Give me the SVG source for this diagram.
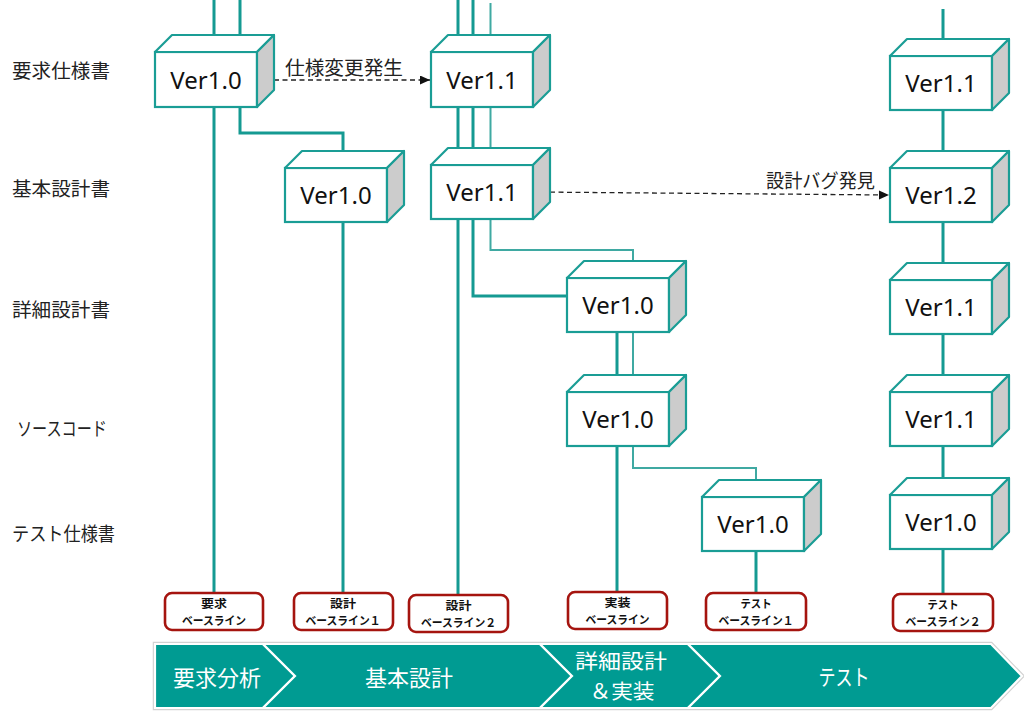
<svg xmlns="http://www.w3.org/2000/svg" width="1024" height="717" viewBox="0 0 1024 717">
<style>
.bg{fill:#ffffff}
.ln{fill:none;stroke:#159a92;stroke-width:3}
.lt{fill:none;stroke:#3fa9a2;stroke-width:2}
.fr{fill:#ffffff;stroke:#1a9d95;stroke-width:2.2}
.tp{fill:#ffffff;stroke:#1a9d95;stroke-width:2.2;stroke-linejoin:round}
.sd{fill:#cccccc;stroke:#1a9d95;stroke-width:2.2;stroke-linejoin:round}
.vt{font-family:"Noto Sans","DejaVu Sans",sans-serif;font-size:24px;fill:#111111;text-anchor:middle}
.lab{font-family:"Noto Sans CJK JP","Noto Sans",sans-serif;font-size:19px;fill:#222222}
.dash{fill:none;stroke:#222222;stroke-width:1.3;stroke-dasharray:5 3.5}
.bl{fill:#ffffff;stroke:#a5140f;stroke-width:2.6}
.blt{font-family:"Noto Sans CJK JP","Noto Sans",sans-serif;font-size:11.5px;font-weight:bold;fill:#111111;text-anchor:middle}
.ph{fill:#009b92;stroke:#ffffff;stroke-width:2.2;stroke-linejoin:miter}
.pht{font-family:"Noto Sans CJK JP","Noto Sans",sans-serif;font-size:22px;fill:#ffffff;text-anchor:middle}
.pht2{font-family:"Noto Sans CJK JP","Noto Sans",sans-serif;font-size:20.5px;fill:#ffffff;text-anchor:middle}
</style>
<defs>
<marker id="arr" markerUnits="userSpaceOnUse" markerWidth="11" markerHeight="10" refX="10" refY="4.5" orient="auto">
<path d="M0,0 L10,4.5 L0,9 z" fill="#111111"/>
</marker>
</defs>
<rect class="bg" x="0" y="0" width="1024" height="717"/>

<g id="row-labels">
<text class="lab" x="12" y="78" textLength="98" lengthAdjust="spacingAndGlyphs">要求仕様書</text>
<text class="lab" x="12" y="196" textLength="98" lengthAdjust="spacingAndGlyphs">基本設計書</text>
<text class="lab" x="12" y="317" textLength="98" lengthAdjust="spacingAndGlyphs">詳細設計書</text>
<text class="lab" x="17" y="436" textLength="90" lengthAdjust="spacingAndGlyphs">ソースコード</text>
<text class="lab" x="12" y="541" textLength="103" lengthAdjust="spacingAndGlyphs">テスト仕様書</text>
</g>

<g id="connectors">
<path class="ln" d="M214,0 V593"/>
<path class="ln" d="M240,0 V133 H343 V593"/>
<path class="ln" d="M458,0 V595"/>
<path class="ln" d="M473,0 V296 H567"/>
<path class="lt" d="M490.5,3 V250 H633 V300"/>
<path class="ln" d="M617,300 V592"/>
<path class="lt" d="M633,300 V468 H756 V520"/>
<path class="ln" d="M756,520 V593"/>
<path class="ln" d="M943,9 V594"/>
<path class="dash" d="M257,80 H430" marker-end="url(#arr)"/>
<path class="dash" d="M533,192 L889,195" marker-end="url(#arr)"/>
<text class="lab" x="285" y="74.5" textLength="118" lengthAdjust="spacingAndGlyphs">仕様変更発生</text>
<text class="lab" x="766" y="188" textLength="109" lengthAdjust="spacingAndGlyphs">設計バグ発見</text>
</g>

<g id="req-v10" transform="translate(155,52)">
<rect class="fr" x="0" y="0" width="102" height="55"/>
<polygon class="tp" points="0,0 17,-17 119,-17 102,0"/>
<polygon class="sd" points="102,0 119,-17 119,38 102,55"/>
<text class="vt" x="51" y="36.5">Ver1.0</text>
</g>
<g id="basic-v10" transform="translate(285,168)">
<rect class="fr" x="0" y="0" width="102" height="54"/>
<polygon class="tp" points="0,0 17,-17 119,-17 102,0"/>
<polygon class="sd" points="102,0 119,-17 119,37 102,54"/>
<text class="vt" x="51" y="36">Ver1.0</text>
</g>
<g id="req-v11" transform="translate(431,52)">
<rect class="fr" x="0" y="0" width="102" height="55"/>
<polygon class="tp" points="0,0 17,-17 119,-17 102,0"/>
<polygon class="sd" points="102,0 119,-17 119,38 102,55"/>
<text class="vt" x="51" y="36.5">Ver1.1</text>
</g>
<g id="basic-v11" transform="translate(431,165)">
<rect class="fr" x="0" y="0" width="102" height="54"/>
<polygon class="tp" points="0,0 17,-17 119,-17 102,0"/>
<polygon class="sd" points="102,0 119,-17 119,37 102,54"/>
<text class="vt" x="51" y="36">Ver1.1</text>
</g>
<g id="detail-v10" transform="translate(567,278)">
<rect class="fr" x="0" y="0" width="102" height="54"/>
<polygon class="tp" points="0,0 17,-17 119,-17 102,0"/>
<polygon class="sd" points="102,0 119,-17 119,37 102,54"/>
<text class="vt" x="51" y="36">Ver1.0</text>
</g>
<g id="src-v10" transform="translate(567,392)">
<rect class="fr" x="0" y="0" width="102" height="54"/>
<polygon class="tp" points="0,0 17,-17 119,-17 102,0"/>
<polygon class="sd" points="102,0 119,-17 119,37 102,54"/>
<text class="vt" x="51" y="36">Ver1.0</text>
</g>
<g id="test-v10" transform="translate(702,497)">
<rect class="fr" x="0" y="0" width="102" height="54"/>
<polygon class="tp" points="0,0 17,-17 119,-17 102,0"/>
<polygon class="sd" points="102,0 119,-17 119,37 102,54"/>
<text class="vt" x="51" y="36">Ver1.0</text>
</g>
<g id="r-req-v11" transform="translate(890,56)">
<rect class="fr" x="0" y="0" width="102" height="54"/>
<polygon class="tp" points="0,0 17,-17 119,-17 102,0"/>
<polygon class="sd" points="102,0 119,-17 119,37 102,54"/>
<text class="vt" x="51" y="36">Ver1.1</text>
</g>
<g id="r-basic-v12" transform="translate(890,168)">
<rect class="fr" x="0" y="0" width="102" height="54"/>
<polygon class="tp" points="0,0 17,-17 119,-17 102,0"/>
<polygon class="sd" points="102,0 119,-17 119,37 102,54"/>
<text class="vt" x="51" y="36">Ver1.2</text>
</g>
<g id="r-detail-v11" transform="translate(890,280)">
<rect class="fr" x="0" y="0" width="102" height="54"/>
<polygon class="tp" points="0,0 17,-17 119,-17 102,0"/>
<polygon class="sd" points="102,0 119,-17 119,37 102,54"/>
<text class="vt" x="51" y="36">Ver1.1</text>
</g>
<g id="r-src-v11" transform="translate(890,392)">
<rect class="fr" x="0" y="0" width="102" height="54"/>
<polygon class="tp" points="0,0 17,-17 119,-17 102,0"/>
<polygon class="sd" points="102,0 119,-17 119,37 102,54"/>
<text class="vt" x="51" y="36">Ver1.1</text>
</g>
<g id="r-test-v10" transform="translate(890,495)">
<rect class="fr" x="0" y="0" width="102" height="54"/>
<polygon class="tp" points="0,0 17,-17 119,-17 102,0"/>
<polygon class="sd" points="102,0 119,-17 119,37 102,54"/>
<text class="vt" x="51" y="36">Ver1.0</text>
</g>

<g id="bl-req">
<rect class="bl" x="165" y="593" width="98" height="37" rx="7"/>
<text class="blt" x="214" y="607.5" textLength="26" lengthAdjust="spacingAndGlyphs">要求</text>
<text class="blt" x="214" y="624.5" textLength="64" lengthAdjust="spacingAndGlyphs">ベースライン</text>
</g>
<g id="bl-design1">
<rect class="bl" x="294" y="593" width="99" height="37" rx="7"/>
<text class="blt" x="343" y="607.5" textLength="26" lengthAdjust="spacingAndGlyphs">設計</text>
<text class="blt" x="343" y="624.5" textLength="75" lengthAdjust="spacingAndGlyphs">ベースライン１</text>
</g>
<g id="bl-design2">
<rect class="bl" x="409" y="595" width="99" height="37" rx="7"/>
<text class="blt" x="458.5" y="609.5" textLength="26" lengthAdjust="spacingAndGlyphs">設計</text>
<text class="blt" x="458.5" y="626.5" textLength="75" lengthAdjust="spacingAndGlyphs">ベースライン２</text>
</g>
<g id="bl-impl">
<rect class="bl" x="568" y="592" width="99" height="37" rx="7"/>
<text class="blt" x="617.5" y="606.5" textLength="26" lengthAdjust="spacingAndGlyphs">実装</text>
<text class="blt" x="617.5" y="623.5" textLength="64" lengthAdjust="spacingAndGlyphs">ベースライン</text>
</g>
<g id="bl-test1">
<rect class="bl" x="706" y="593" width="100" height="37" rx="7"/>
<text class="blt" x="756" y="607.5" textLength="31" lengthAdjust="spacingAndGlyphs">テスト</text>
<text class="blt" x="756" y="624.5" textLength="75" lengthAdjust="spacingAndGlyphs">ベースライン１</text>
</g>
<g id="bl-test2">
<rect class="bl" x="893" y="594" width="100" height="37" rx="7"/>
<text class="blt" x="943" y="608.5" textLength="31" lengthAdjust="spacingAndGlyphs">テスト</text>
<text class="blt" x="943" y="625.5" textLength="75" lengthAdjust="spacingAndGlyphs">ベースライン２</text>
</g>

<g id="phases">
<polygon points="155,644 991,644 1022,676 991,708 155,708" fill="none" stroke="#d2d2d2" stroke-width="4.5"/>
<polygon class="ph" points="155,644 263,644 295,676 263,708 155,708"/>
<polygon class="ph" points="263,644 540,644 572,676 540,708 263,708 295,676"/>
<polygon class="ph" points="540,644 688,644 720,676 688,708 540,708 572,676"/>
<polygon class="ph" points="688,644 991,644 1022,676 991,708 688,708 720,676"/>
<text class="pht" x="217" y="685.5">要求分析</text>
<text class="pht" x="409" y="685.5">基本設計</text>
<text class="pht2" x="621" y="668.5" textLength="92" lengthAdjust="spacingAndGlyphs">詳細設計</text>
<text class="pht2" x="622" y="698.5" textLength="65" lengthAdjust="spacingAndGlyphs">＆実装</text>
<text class="pht" x="844" y="684.5" textLength="51" lengthAdjust="spacingAndGlyphs">テスト</text>
</g>
</svg>
